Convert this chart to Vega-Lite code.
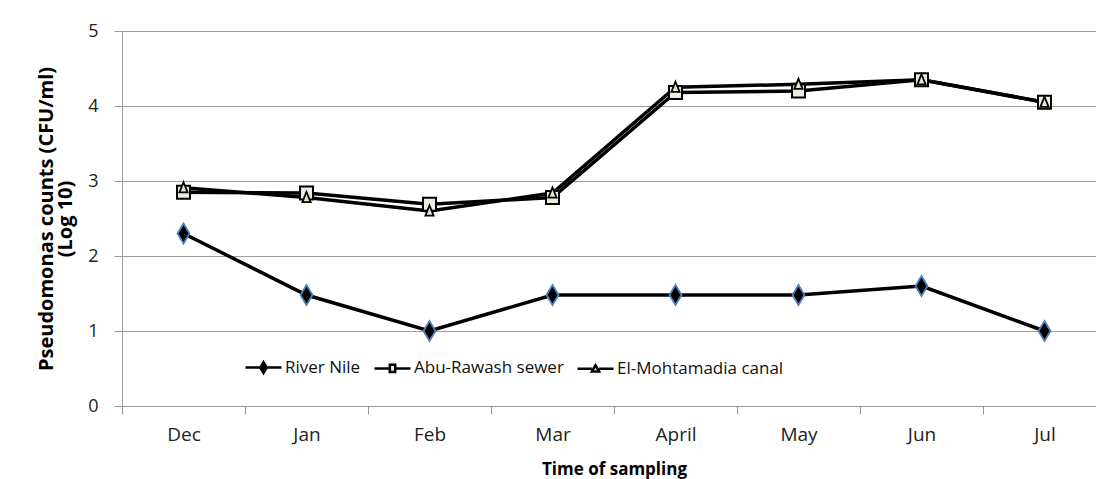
{
  "$schema": "https://vega.github.io/schema/vega-lite/v6.json",
  "autosize": {"type": "none"},
  "padding": {"left": 122, "top": 31, "right": 0, "bottom": 73},
  "width": 984,
  "height": 375,
  "background": "white",
  "config": {
    "view": {"stroke": null},
    "font": "Open Sans",
    "axis": {"labelFont": "Open Sans", "titleFont": "Open Sans", "labelColor": "#222", "titleColor": "#000"}
  },
  "data": {
    "values": [
      {"month": "Dec", "series": "River Nile", "value": 2.3},
      {"month": "Jan", "series": "River Nile", "value": 1.48},
      {"month": "Feb", "series": "River Nile", "value": 1.0},
      {"month": "Mar", "series": "River Nile", "value": 1.48},
      {"month": "April", "series": "River Nile", "value": 1.48},
      {"month": "May", "series": "River Nile", "value": 1.48},
      {"month": "Jun", "series": "River Nile", "value": 1.6},
      {"month": "Jul", "series": "River Nile", "value": 1.0},
      {"month": "Dec", "series": "Abu-Rawash sewer", "value": 2.85},
      {"month": "Jan", "series": "Abu-Rawash sewer", "value": 2.84},
      {"month": "Feb", "series": "Abu-Rawash sewer", "value": 2.69},
      {"month": "Mar", "series": "Abu-Rawash sewer", "value": 2.78},
      {"month": "April", "series": "Abu-Rawash sewer", "value": 4.18},
      {"month": "May", "series": "Abu-Rawash sewer", "value": 4.2},
      {"month": "Jun", "series": "Abu-Rawash sewer", "value": 4.35},
      {"month": "Jul", "series": "Abu-Rawash sewer", "value": 4.05},
      {"month": "Dec", "series": "El-Mohtamadia canal", "value": 2.91},
      {"month": "Jan", "series": "El-Mohtamadia canal", "value": 2.78},
      {"month": "Feb", "series": "El-Mohtamadia canal", "value": 2.6},
      {"month": "Mar", "series": "El-Mohtamadia canal", "value": 2.84},
      {"month": "April", "series": "El-Mohtamadia canal", "value": 4.25},
      {"month": "May", "series": "El-Mohtamadia canal", "value": 4.29},
      {"month": "Jun", "series": "El-Mohtamadia canal", "value": 4.35},
      {"month": "Jul", "series": "El-Mohtamadia canal", "value": 4.05}
    ]
  },
  "encoding": {
    "x": {
      "field": "month",
      "type": "ordinal",
      "bandPosition": 0.5,
      "sort": ["Dec", "Jan", "Feb", "Mar", "April", "May", "Jun", "Jul"],
      "scale": {"type": "band", "paddingInner": 0, "paddingOuter": 0},
      "axis": {
        "title": "Time of sampling",
        "titleFontSize": 17,
        "titleFontWeight": "bold",
        "titlePadding": 17,
        "labelFontSize": 19,
        "labelAngle": 0,
        "labelPadding": 11,
        "tickBand": "extent",
        "tickSize": 8,
        "tickColor": "#999",
        "domainColor": "#999",
        "grid": false
      }
    },
    "y": {
      "field": "value",
      "type": "quantitative",
      "scale": {"domain": [0, 5], "nice": false, "zero": true},
      "axis": {
        "title": ["Pseudomonas counts (CFU/ml)", "(Log 10)"],
        "titleFontSize": 20,
        "titleFontWeight": "bold",
        "titleLineHeight": 19,
        "titlePadding": 12,
        "labelFontSize": 18,
        "labelPadding": 16,
        "labelOverlap": false,
        "values": [0, 1, 2, 3, 4, 5],
        "tickSize": 8,
        "tickColor": "#999",
        "domainColor": "#999",
        "gridColor": "#a0a0a0",
        "grid": true
      }
    }
  },
  "layer": [
    {
      "mark": {"type": "line", "strokeWidth": 3.5},
      "encoding": {
        "color": {
          "field": "series",
          "type": "nominal",
          "scale": {
            "domain": ["River Nile", "Abu-Rawash sewer", "El-Mohtamadia canal"],
            "range": ["#000000", "#000000", "#000000"]
          },
          "legend": {
            "title": null,
            "orient": "none",
            "legendX": 122,
            "legendY": 317,
            "direction": "horizontal",
            "symbolSize": 1296,
            "symbolStrokeWidth": 2.5,
            "labelFontSize": 17,
            "labelFont": "Open Sans",
            "labelColor": "#111",
            "labelLimit": 400,
            "labelOffset": 2,
            "columnPadding": 8,
            "encode": {
              "symbols": {
                "update": {
                  "stroke": {"value": "black"},
                  "strokeWidth": {"value": 2.5},
                  "fill": {"signal": "datum.value === 'River Nile' ? '#000000' : '#EEECE1'"},
                  "fillOpacity": {"value": 1},
                  "opacity": {"value": 1},
                  "shape": {"signal": "datum.value === 'River Nile' ? 'M-1,0L-0.18,0M0.18,0L1,0M0,-0.3L0.18,0L0,0.3L-0.18,0Z' : datum.value === 'Abu-Rawash sewer' ? 'M-1,0L-0.15,0M0.15,0L1,0M-0.15,-0.2L0.15,-0.2L0.15,0.2L-0.15,0.2Z' : 'M-1,0L-0.2,0M0.2,0L1,0M0,-0.2L0.2,0.15L-0.2,0.15Z'"}
                }
              }
            }
          }
        }
      }
    },
    {
      "transform": [{"filter": "datum.series === 'River Nile'"}],
      "mark": {"type": "point", "shape": "M0,-1L0.6,0L0,1L-0.6,0Z", "size": 400, "filled": true, "fill": "#000000", "stroke": "#4F81BD", "strokeWidth": 1.8, "opacity": 1}
    },
    {
      "transform": [{"filter": "datum.series === 'Abu-Rawash sewer'"}],
      "mark": {"type": "point", "shape": "square", "size": 169, "filled": true, "fill": "#EEECE1", "stroke": "#000000", "strokeWidth": 2, "opacity": 1}
    },
    {
      "transform": [{"filter": "datum.series === 'El-Mohtamadia canal'"}],
      "mark": {"type": "point", "shape": "M0,-1L0.75,0.85L-0.75,0.85Z", "size": 121, "filled": true, "fill": "#E6E3D3", "stroke": "#000000", "strokeWidth": 1.8, "opacity": 1}
    }
  ]
}
